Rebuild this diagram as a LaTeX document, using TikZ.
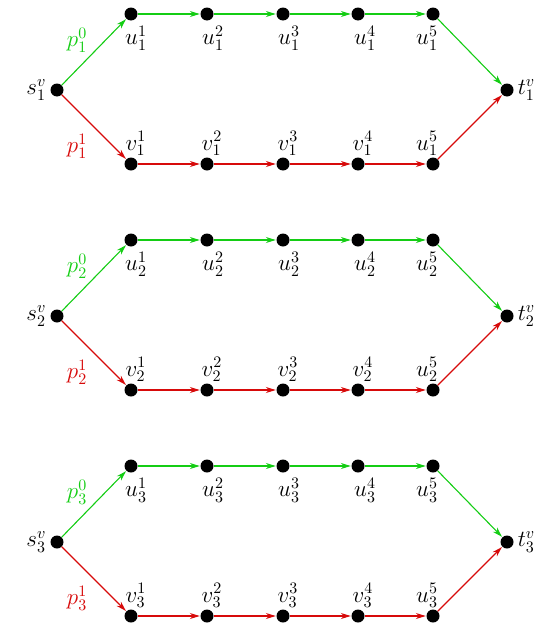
\documentclass[tikz,border=0pt]{standalone}
\usetikzlibrary{arrows.meta}
\definecolor{pgreen}{RGB}{20,205,20}
\definecolor{pred}{RGB}{215,10,10}
\begin{document}
\begin{tikzpicture}[x=1pt,y=-1pt,
  dot/.style={circle,fill=black,inner sep=0pt,minimum size=13pt},
  lbl/.style={font=\Large,scale=1.6,inner sep=0.5pt},
  gedge/.style={draw=pgreen,line width=1.1pt,-{Stealth[length=10pt,width=6pt]},shorten >=0.5pt},
  redge/.style={draw=pred,line width=1.1pt,-{Stealth[length=10pt,width=6pt]},shorten >=0.5pt}]
\useasboundingbox (0,0) rectangle (546,632);
\foreach \g/\yo in {1/0,2/226,3/452}{
  \begin{scope}[yshift=-\yo pt]
  \node[dot] (s\g) at (57,90) {};
  \node[dot] (t\g) at (507,90) {};
  \node[lbl,anchor=east] at ([xshift=-3pt]s\g.west) {$s^{v}_{\g}$};
  \node[lbl,anchor=west] at ([xshift=3pt]t\g.east) {$t^{v}_{\g}$};
  \foreach \i/\x in {1/131,2/207,3/283,4/358,5/433}{
    \node[dot] (u\g\i) at (\x,14) {};
    \node[dot] (v\g\i) at (\x,164) {};
  }
  \foreach \i/\dx in {1/5,2/6,3/6,4/7,5/-6}{
    \node[lbl,anchor=north] at ([xshift=\dx pt,yshift=-11pt]u\g\i) {$u^{\i}_{\g}$};
  }
  \foreach \i in {1,2,3,4}{
    \node[lbl,anchor=south] at ([xshift=5pt,yshift=7pt]v\g\i) {$v^{\i}_{\g}$};
  }
  \node[lbl,anchor=south] at ([xshift=-6pt,yshift=7pt]v\g5) {$u^{5}_{\g}$};
  \node[lbl,text=pgreen] at (77,40) {$p^{0}_{\g}$};
  \node[lbl,text=pred] at (77,146) {$p^{1}_{\g}$};
  \draw[gedge] (s\g) -- (u\g1);
  \draw[redge] (s\g) -- (v\g1);
  \draw[gedge] (u\g1) -- (u\g2);
  \draw[gedge] (u\g2) -- (u\g3);
  \draw[gedge] (u\g3) -- (u\g4);
  \draw[gedge] (u\g4) -- (u\g5);
  \draw[redge] (v\g1) -- (v\g2);
  \draw[redge] (v\g2) -- (v\g3);
  \draw[redge] (v\g3) -- (v\g4);
  \draw[redge] (v\g4) -- (v\g5);
  \draw[gedge] (u\g5) -- (t\g);
  \draw[redge] (v\g5) -- (t\g);
  \end{scope}
}
\end{tikzpicture}
\end{document}
